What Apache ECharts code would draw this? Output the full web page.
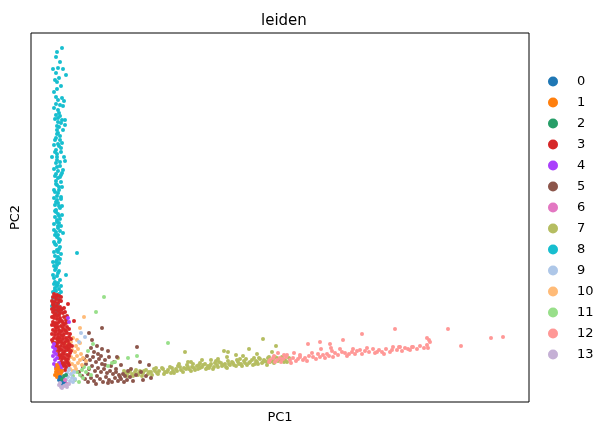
<!DOCTYPE html>
<html><head><meta charset="utf-8">
<script src="https://cdn.jsdelivr.net/npm/echarts@6/dist/echarts.min.js"></script>
<style>html,body{margin:0;padding:0;background:#fff}#c{width:610px;height:431px}</style>
</head><body><div id="c"></div>
<script>
const categories = ['0','1','2','3','4','5','6','7','8','9','10','11','12','13'];
const palette = ['#1f77b4','#ff7f0e','#279e68','#d62728','#aa40fc','#8c564b','#e377c2','#b5bd61','#17becf','#aec7e8','#ffbb78','#98df8a','#ff9896','#c5b0d5'];

const c0 = [[28,22],[30,20],[32,23],[29,25],[31,18],[33,21],[34,19],[30,24]];
const c1 = [[25,30],[27,28],[26,25],[28,32],[24,27],[29,26],[30,29],[27,35],[25,33],[31,31],[29,23],[26,37]];
const c2 = [[31,23],[33,26],[35,27]];
const c3 = [[23,108],[26,107],[22,105],[28,106],[25,103],[21,101],[24,100],[27,99],[30,101],[22,97],[26,96],[29,95],[37,98],
[21,93],[24,92],[27,91],[31,93],[22,90],[25,88],[28,87],[32,89],[21,85],[23,84],[26,83],[29,84],[33,85],[22,80],[25,79],[28,80],[31,81],[35,82],[43,81],
[21,77],[24,76],[27,75],[30,76],[33,77],[36,75],[22,72],[25,71],[28,72],[31,71],[34,72],[38,73],
[21,68],[24,67],[27,68],[30,67],[33,68],[36,69],[23,64],[26,63],[29,64],[32,63],[35,64],[38,65],
[22,60],[25,59],[28,60],[31,59],[34,60],[37,61],[24,56],[27,55],[30,56],[33,55],[36,56],[39,57],
[25,52],[28,51],[31,52],[34,51],[37,52],[27,48],[30,47],[33,48],[36,47],[39,49],
[28,44],[31,43],[34,44],[37,43],[30,40],[33,39],[36,40],[32,36],[35,35],[38,37],[34,32],
[23,95],[29,89],[35,79],[32,74],[27,62],[38,58],[26,78],[40,63],[24,88],[30,105],[21,62],[34,90],[36,86],
[22,99],[25,105],[28,102],[24,96],[27,93],[30,92],[33,94],[23,86],[26,86],[29,82],[32,79],[23,78],[25,74],[29,70],[32,66],[35,71],[24,70],[27,65],
[30,61],[33,58],[36,62],[26,58],[29,53],[32,49],[35,54],[38,54],[29,46],[32,45],[35,42],[38,46],[31,38],[34,37],[37,39],[40,51],[41,56],[39,68]];
const c4 = [[22,55],[23,50],[22,46],[24,42],[23,38],[25,35],[27,33],[26,44],[28,39],[25,48],[29,36],[30,34],[24,53],[37,84],[38,80],[27,30],[31,31],[23,58]];
const c5 = [[71,74],[77,51],[106,55],[118,37],[109,40],[58,69],[90,37],[71,53],
[48,30],[51,26],[54,23],[57,28],[60,24],[63,21],[66,26],[69,23],[72,20],[75,25],[78,22],[81,20],[84,24],[87,21],[90,23],[93,20],[96,22],
[52,35],[55,38],[58,33],[61,36],[64,31],[67,34],[70,30],[73,33],[76,29],[79,31],[82,28],[85,30],
[59,42],[62,45],[65,40],[68,43],[71,38],[74,42],[63,50],[67,48],[56,46],[60,54],[70,46],[80,36],[88,27],[77,19],[65,18],[85,33],[53,43],[92,28],[99,25],[102,21],[57,20],
[110,30],[115,26],[120,24],[105,27],[97,31],[94,26],[100,33],[89,25],[74,37],[78,45],[83,40],[66,56],[61,62],[86,45],[112,22]];
const c6 = [[34,22],[36,18]];
const c7 = [[232,63],[245,56],[218,53],[193,51],[197,50],[154,50],[157,40],[169,39],[87,44],
[94,29],[96,26],[99,31],[101,28],[104,30],[107,27],[109,31],[112,29],[115,32],[117,28],[120,30],[123,33],[126,29],[128,31],[131,34],[134,30],[137,32],
[139,35],[142,31],[145,33],[147,36],[150,32],[153,34],[156,37],[158,33],[161,35],[164,32],[166,36],[169,34],[172,37],[175,33],[177,36],[180,38],
[183,35],[186,37],[188,40],[191,36],[194,38],[197,41],[199,37],[202,39],[205,36],[207,40],[210,38],[213,41],[216,37],[218,39],[221,42],[224,38],
[226,40],[229,43],[231,39],[234,41],[237,44],[239,40],[242,42],[244,45],[247,41],[250,43],[253,40],
[148,38],[162,38],[178,34],[196,34],[209,43],[223,44],[236,37],[185,41],[140,29],[125,34],
[93,31],[97,29],[102,26],[105,32],[108,29],[111,26],[113,31],[118,30],[121,27],[124,31],[127,28],[132,33],[133,28],[136,30],[141,34],[143,29],[146,31],
[149,35],[152,30],[155,33],[157,35],[160,31],[163,34],[167,33],[168,37],[171,35],[174,38],[176,34],[179,36],[182,33],[184,39],[187,35],[190,39],[192,37],
[195,35],[198,38],[201,40],[203,37],[206,42],[208,38],[211,36],[214,39],[215,43],[219,40],[222,37],[225,41],[227,38],[228,44],[232,40],[233,42],[236,40],
[238,45],[241,41],[243,39],[246,44],[248,42],[251,45],[254,42],[256,40],[258,44],[196,45],[187,43],[171,42],[205,47],[212,46],[160,40],[180,42],[226,48],[241,50]];
const c8 = [[31,354],[26,350],[22,333],[25,329],[27,334],[32,333],[35,327],[26,320],[23,310],[25,305],[31,304],[33,301],[23,294],[27,292],[28,289],[27,284],
[31,282],[34,282],[30,279],[34,277],[28,275],[26,272],[27,269],[25,264],[29,266],[31,259],[30,254],[25,252],[21,245],[26,245],[33,245],[34,241],[25,239],
[26,235],[32,232],[25,228],[31,229],[29,225],[25,221],[26,217],[31,215],[23,212],[27,209],[30,205],[26,202],[24,197],[27,199],[29,194],[25,190],[31,187],
[26,182],[28,179],[27,174],[32,169],[25,170],[26,165],[23,160],[28,160],[29,155],[26,152],[46,149],[27,145],[25,140],[28,139],[24,132],[27,129],[35,127],
[22,127],[23,124],[29,122],[26,117],[24,114],
[25,200],[28,196],[24,185],[27,176],[29,171],[24,167],[28,163],[25,157],[27,150],[24,146],[26,142],[23,136],[25,134],[28,131],[26,126],[24,120],[27,119],
[25,111],[22,110],[28,108],[24,106],[26,103],[23,100],[27,98],[25,95],[29,93],[24,112],[27,104],[30,110],[26,90],[28,215],[24,226],[27,231],[29,240],
[26,248],[28,256],[24,262],[26,268],[27,280],[25,287],[29,297],[26,313],[28,324],[30,227],[24,210],[29,183],[23,178],[27,188],[25,192],[30,203],
[22,140],[29,143],[26,137],[23,150],[30,148],[28,153],[24,158],[29,162],[27,167],[23,172],[30,176],[26,180],[28,186],[24,191],[31,196],[26,206],[23,204],
[28,212],[25,218],[30,220],[27,224],[23,233],[29,236],[26,242],[24,250],[30,250],[27,258],[23,257],[29,262],[26,276],[32,272],[24,283],[29,286],[25,298],
[32,296],[27,302],[30,316],[24,322],[29,340],[25,345],[26,116],[23,118],[30,116],[28,113],[22,104],[29,101],[25,98],[21,96],[27,94],[24,92]];
const c9 = [[35,22],[37,25],[39,21],[41,24],[36,29],[38,32],[40,28],[42,20],[44,23],[37,35],[50,69],[54,65],[48,60],[43,30]];
const c10 = [[53,85],[49,74],[42,64],[49,59],[46,62],[38,55],[41,52],[44,50],[47,53],[50,48],[37,47],[40,45],[43,43],[46,46],[49,42],[52,44],
[38,40],[41,38],[44,36],[47,39],[39,33],[42,31],[45,33],[51,37],[55,41],[36,58],[40,60],[45,56]];
const c11 = [[73,105],[65,90],[62,58],[57,51],[137,59],[97,44],[106,46],[84,40],[81,39],[77,36],[46,30],[49,27],[52,24],[44,22],[48,20],[55,30],[58,34],[53,35],[60,27],[42,26],[51,32]];
const c12 = [[239,42],[244,40],[252,43],[259,42],[269,47],[274,44],[282,45],[289,45],[296,48],[304,49],[314,49],[321,50],[324,48],[329,52],[334,51],[342,53],
[344,49],[351,50],[359,50],[361,52],[368,55],[374,54],[381,55],
[247,49],[249,44],[269,45],[277,58],[289,60],[299,58],[312,62],[331,68],[364,73],[369,55],[382,55],[396,64],[399,60],[397,54],[417,73],[430,56],[460,64],[472,65],
[238,40],[242,44],[246,42],[250,40],[255,45],[262,44],[265,41],[272,42],[278,46],[285,43],[292,47],[298,46],[301,51],[307,47],[311,50],[318,48],[326,51],
[338,50],[348,52],[355,53],[366,52],[377,53],[389,56],[396,57],[398,62],[290,53],[300,54],[263,49],[256,47],
[243,46],[253,47],[260,39],[267,43],[276,41],[281,49],[287,48],[294,44],[302,45],[309,53],[316,46],[322,53],[331,48],[336,54],[346,50],[353,48],[362,55],
[371,51],[379,52],[386,53],[393,54]];
const c13 = [[28,17],[30,15],[33,16],[35,17],[31,14],[36,15],[29,19],[38,18]];

const clusters = [c0,c1,c2,c3,c4,c5,c6,c7,c8,c9,c10,c11,c12,c13];
const drawOrder = [8,7,12,5,11,10,9,3,4,1,0,2,6,13];

const chart = echarts.init(document.getElementById('c'));
const series = drawOrder.map(i => ({
  name: categories[i], type: 'scatter', data: clusters[i], symbolSize: 4,
  itemStyle: {color: palette[i], opacity: 1}, z: 2
}));
chart.setOption({
  animation: false,
  color: palette,
  title: {text: 'leiden', left: 256, top: 9, textStyle: {fontFamily: 'DejaVu Sans', fontSize: 15, fontWeight: 'normal', color: '#000'}},
  grid: {left: 31, right: 81, top: 33, bottom: 29, show: true, borderColor: '#000', borderWidth: 1},
  xAxis: {type: 'value', min: 0, max: 498, name: 'PC1', nameLocation: 'middle', nameGap: 9,
    nameTextStyle: {fontFamily: 'DejaVu Sans', fontSize: 13, color: '#000'},
    axisLine: {show: false}, axisTick: {show: false}, axisLabel: {show: false}, splitLine: {show: false}},
  yAxis: {type: 'value', min: 0, max: 369, name: 'PC2', nameLocation: 'middle', nameGap: 9, nameRotate: 90,
    nameTextStyle: {fontFamily: 'DejaVu Sans', fontSize: 13, color: '#000'},
    axisLine: {show: false}, axisTick: {show: false}, axisLabel: {show: false}, splitLine: {show: false}},
  legend: {orient: 'vertical', left: 543, top: 70, data: categories, icon: 'circle', itemWidth: 10, itemHeight: 10, itemGap: 8,
    textStyle: {fontFamily: 'DejaVu Sans', fontSize: 13, color: '#000', padding: [0,0,0,14]}},
  series: series
});
</script></body></html>
